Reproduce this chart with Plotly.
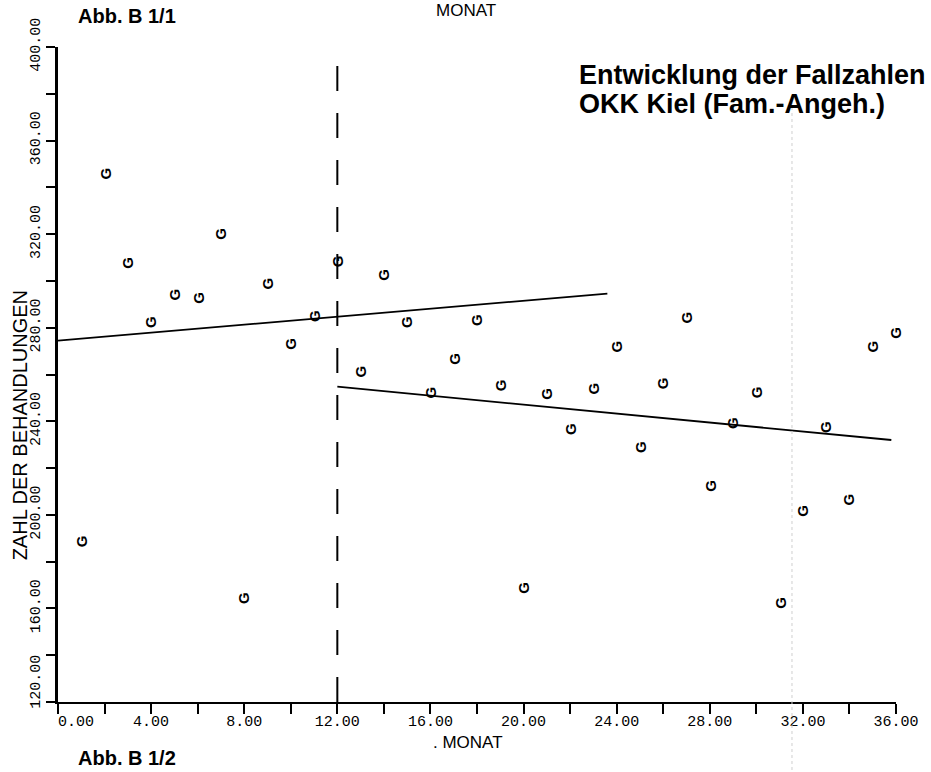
import plotly.graph_objects as go

# Monthly treatment counts (months 1..36)
months = list(range(1, 37))
treatments = [188.8, 345.7, 307.7, 282.5, 294.4, 292.7, 320.1, 164.5, 298.7, 273.1, 285.0, 308.5,
              261.1, 302.6, 282.5, 252.5, 266.6, 283.3, 255.5, 168.7, 251.7, 236.7, 254.2, 271.8,
              229.0, 256.4, 284.2, 212.3, 239.3, 252.5, 162.3, 201.7, 237.6, 206.8, 271.8, 277.8]

# Fitted trend lines before and after the break
trend_pre_x = [0, 23.6]
trend_pre_y = [274.5, 294.6]
trend_post_x = [12, 35.8]
trend_post_y = [254.8, 232.0]

# Break marker at month 12
break_x = [12, 12]
break_y = [120, 392]

NBSP = "\u00a0"
x_ticks = list(range(0, 37, 4))
x_ticktext = [f"{v:.2f}" for v in x_ticks]
x_ticktext[0] = NBSP * 4 + x_ticktext[0]      # keep the origin label clear of the y axis
y_ticks = list(range(120, 401, 40))
y_ticktext = [f"{v:.2f}" for v in y_ticks]
y_ticktext[0] = NBSP * 4 + y_ticktext[0]      # keep the origin label clear of the x axis

W, H = 931, 772
L, R, T, B = 58, 27, 47, 70
PW, PH = W - L - R, H - T - B


def px(xp, yp):
    """Pixel position -> paper coordinates."""
    return (xp - L) / PW, (H - B - yp) / PH


mono = "Liberation Mono"
sans = "Liberation Sans"

fig = go.Figure()

fig.add_trace(go.Scatter(
    x=break_x, y=break_y, mode="lines",
    line=dict(color="black", width=2, dash="25px,22px"),
    hoverinfo="skip", showlegend=False,
))
fig.add_trace(go.Scatter(
    x=trend_pre_x, y=trend_pre_y, mode="lines",
    line=dict(color="black", width=1.8), hoverinfo="skip", showlegend=False,
))
fig.add_trace(go.Scatter(
    x=trend_post_x, y=trend_post_y, mode="lines",
    line=dict(color="black", width=1.8), hoverinfo="skip", showlegend=False,
))
fig.add_trace(go.Scatter(
    x=months, y=treatments, mode="markers",
    marker=dict(size=10, opacity=0), showlegend=False,
    hovertemplate="Monat %{x}<br>%{y:.1f}<extra></extra>",
))

annotations = []
# Plot symbols: the letter G, turned like the axis lettering
for m, v in zip(months, treatments):
    annotations.append(dict(
        x=m, y=v, xref="x", yref="y", text="<b>G</b>", textangle=-90, showarrow=False,
        font=dict(family=sans, size=15, color="black"),
    ))


def text_at(xp, yp, text, size, family, bold=False, xanchor="center", angle=0, align="left"):
    xx, yy = px(xp, yp)
    annotations.append(dict(
        x=xx, y=yy, xref="paper", yref="paper", xanchor=xanchor, yanchor="middle",
        text=f"<b>{text}</b>" if bold else text, showarrow=False, textangle=angle,
        align=align, font=dict(family=family, size=size, color="black"),
    ))


text_at(76, 16, "Abb. B 1/1", 20, sans, bold=True, xanchor="left")
text_at(76, 758, "Abb. B 1/2", 20, sans, bold=True, xanchor="left")
text_at(582, 75, "Entwicklung der Fallzahlen", 27, sans, bold=True, xanchor="left")
text_at(582, 104, "OKK Kiel (Fam.-Angeh.)", 27, sans, bold=True, xanchor="left")
text_at(470, 11, "MONAT", 17, sans)
text_at(472, 742, ". MONAT", 17, sans)
text_at(20, 425, "ZAHL DER BEHANDLUNGEN", 20, sans, angle=-90)

fig.update_layout(
    width=W, height=H,
    margin=dict(l=L, r=R, t=T, b=B),
    paper_bgcolor="white", plot_bgcolor="white",
    showlegend=False,
    annotations=annotations,
    shapes=[dict(
        type="line", xref="paper", yref="paper",
        x0=px(799, 0)[0], x1=px(799, 0)[0], y0=px(0, 95)[1], y1=px(0, 790)[1],
        line=dict(color="#cfcfcf", width=1, dash="dot"),
    )],
    xaxis=dict(
        range=[0, 36], tickvals=x_ticks, ticktext=x_ticktext,
        showline=True, linecolor="black", linewidth=2,
        ticks="outside", ticklen=10, tickwidth=2, tickcolor="black",
        minor=dict(dtick=2, ticks="outside", ticklen=10, tickwidth=2, tickcolor="black"),
        showgrid=False, zeroline=False, ticklabelstandoff=-6,
        tickfont=dict(family=mono, size=15, color="black"),
    ),
    yaxis=dict(
        range=[120, 400], tickvals=y_ticks, ticktext=y_ticktext,
        showline=True, linecolor="black", linewidth=2.5,
        ticks="outside", ticklen=9, tickwidth=2, tickcolor="black",
        minor=dict(dtick=20, ticks="outside", ticklen=9, tickwidth=2, tickcolor="black"),
        showgrid=False, zeroline=False, tickangle=-90,
        tickfont=dict(family=mono, size=15, color="black"),
    ),
)

fig.write_html("out.html")
